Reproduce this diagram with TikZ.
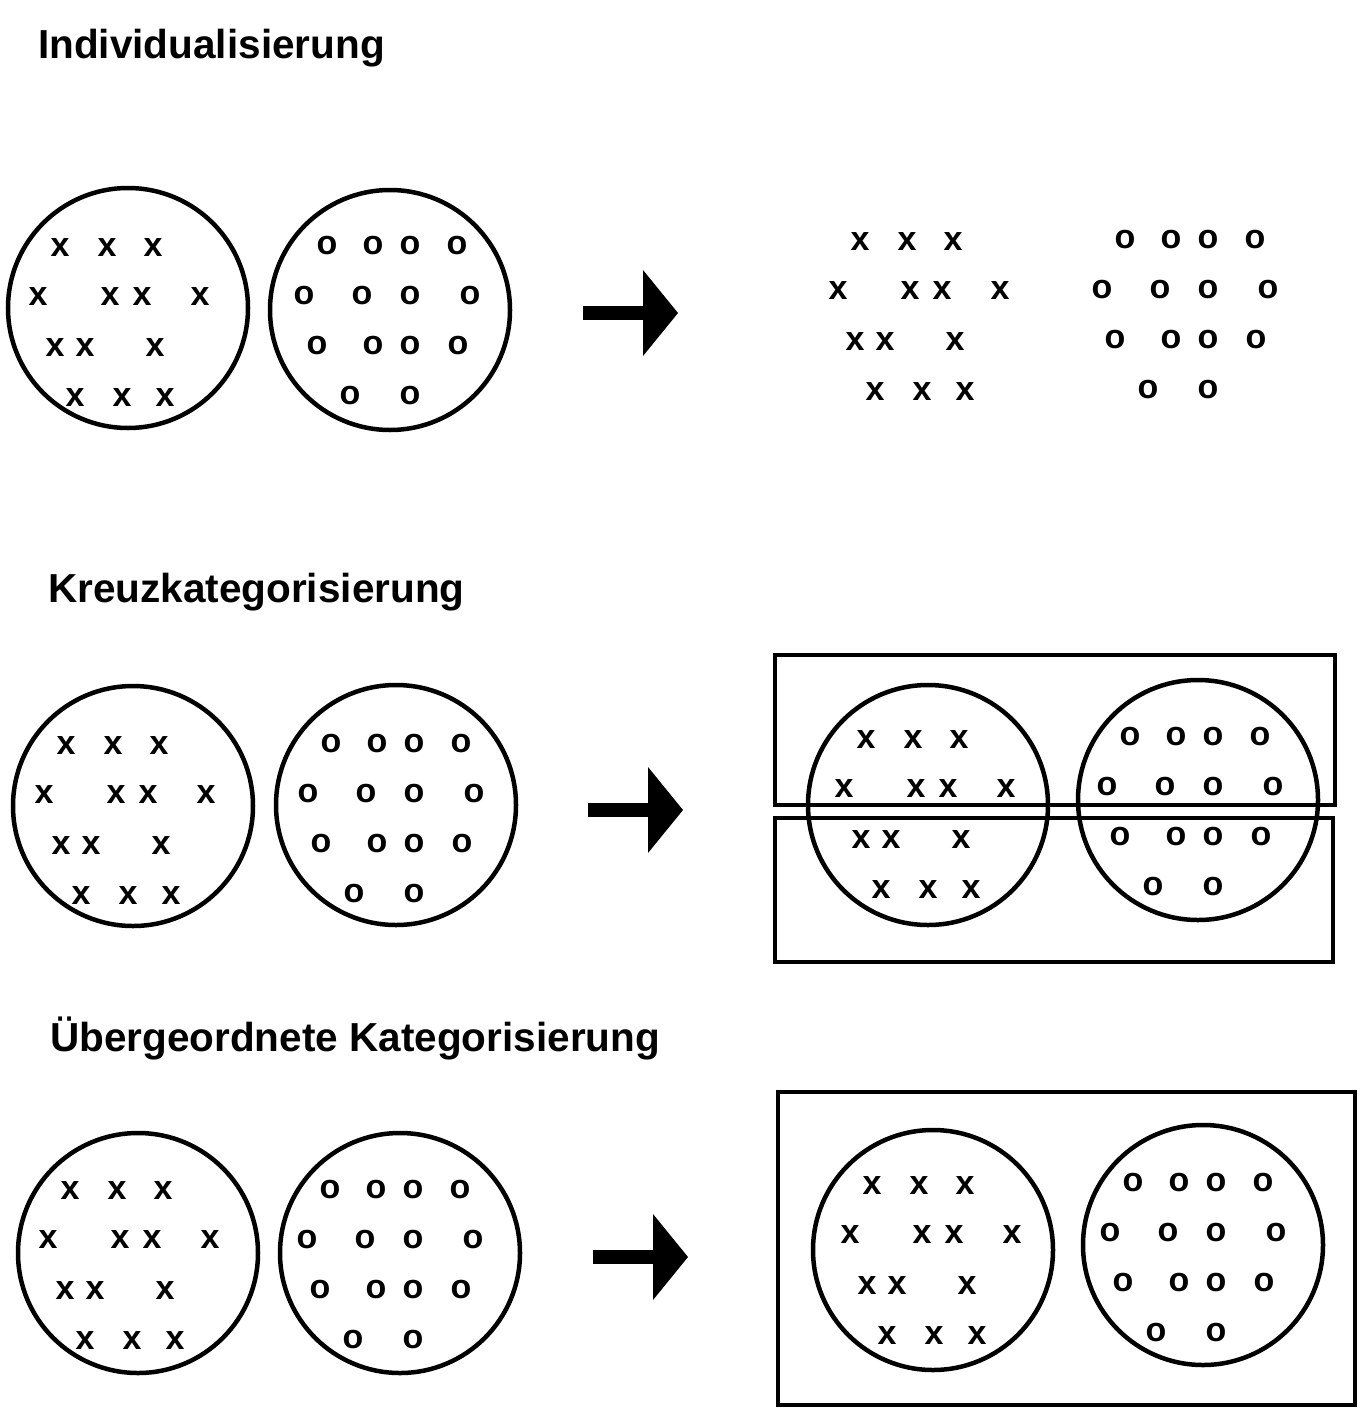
\documentclass[tikz,border=0pt]{standalone}
\usepackage{fontspec}
\setmainfont{Liberation Sans}
\begin{document}
\begin{tikzpicture}[x=1pt,y=-1pt,
  circ/.style={draw,line width=4.5pt},
  box/.style={draw,line width=4.5pt},
  sym/.style={font=\fontsize{34}{34}\selectfont\bfseries,inner sep=0},
  ttl/.style={font=\fontsize{40.5}{44}\selectfont\bfseries,anchor=west,inner sep=0},
  pics/xs/.style={code={
    \foreach \a/\b in {-68/-60,-21/-60,25/-60,-90/-11,-18/-11,14/-11,72/-11,-73/40,-43/40,27/40,-53/90,-6/90,37/90}
      \node[sym] at (\a,\b) {x};}},
  pics/os/.style={code={
    \foreach \a/\b in {-63/-64,-17/-64,20/-64,67/-64,-86/-14,-28/-14,20/-14,80/-14,-73/36,-17/36,20/36,68/36,-40/86,20/86}
      \node[sym] at (\a,\b) {o};}}]
\useasboundingbox (0,0) rectangle (1370,1416);
\newcommand\myarrow[2]{\fill (#1,#2-7) rectangle (#1+62,#2+7);
  \fill (#1+60,#2-43) -- (#1+95,#2) -- (#1+60,#2+43) -- cycle;}
% titles
\node[ttl] (t1) at (38,48) {Individualisierung};
\node[ttl] (t2) at (48,592) {Kreuzkategorisierung};
\node[ttl] (t3) at (50,1038) {Übergeordnete Kategorisierung};
% row 1
\draw[circ] (128,308) circle (120);
\draw[circ] (390,310) circle (120);
\pic at (128,308) {xs}; \pic at (390,310) {os};
\myarrow{583}{313}
\pic at (928,302) {xs}; \pic at (1188,304) {os};
% row 2
\draw[circ] (133,806) circle (120);
\draw[circ] (396,805) circle (120);
\pic at (134,806) {xs}; \pic at (394,808) {os};
\myarrow{588}{810}
\draw[box] (775,655) rectangle (1335,805);
\draw[box] (775,818) rectangle (1333,962);
\draw[circ] (928,805) circle (120);
\draw[circ] (1198,800) circle (120);
\pic at (934,800) {xs}; \pic at (1193,801) {os};
% row 3
\draw[circ] (138,1253) circle (120);
\draw[circ] (400,1253) circle (120);
\pic at (138,1251) {xs}; \pic at (393,1254) {os};
\myarrow{593}{1257}
\draw[box] (778,1092) rectangle (1355,1405);
\draw[circ] (933,1250) circle (120);
\draw[circ] (1203,1245) circle (120);
\pic at (940,1246) {xs}; \pic at (1196,1247) {os};
\end{tikzpicture}
\end{document}
